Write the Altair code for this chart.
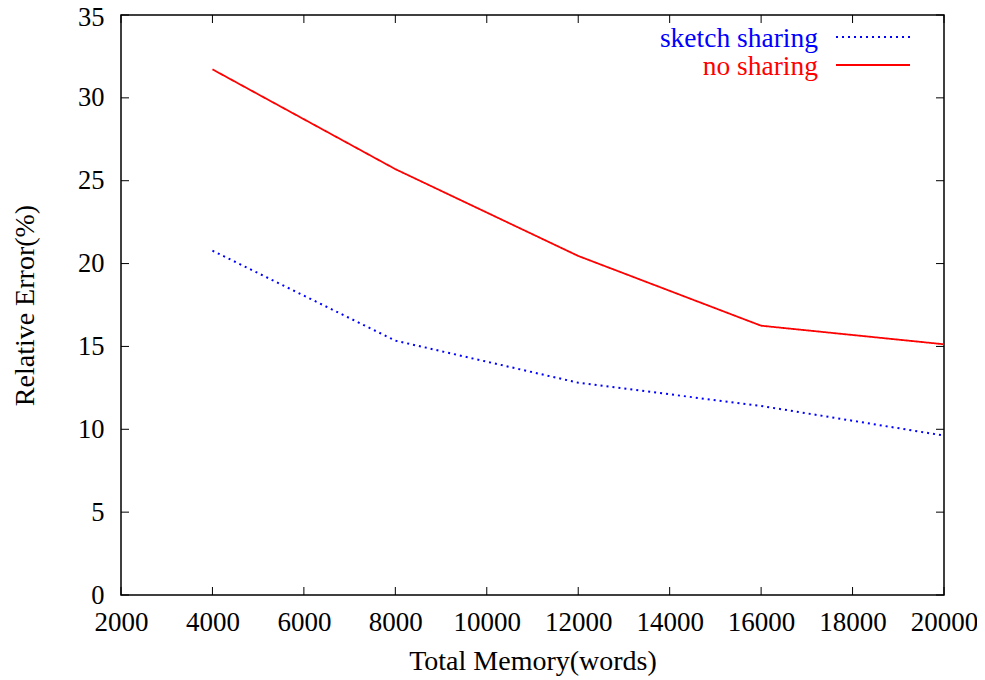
import altair as alt
import pandas as pd

memory = [4000, 8000, 12000, 16000, 20000]
sketch_sharing = [20.78, 15.35, 12.81, 11.41, 9.62]
no_sharing = [31.72, 25.7, 20.46, 16.25, 15.13]
series_names = ["sketch sharing", "no sharing"]
series_colors = ["#0000ff", "#ff0000"]
x_ticks = [2000, 4000, 6000, 8000, 10000, 12000, 14000, 16000, 18000, 20000]
y_ticks = [0, 5, 10, 15, 20, 25, 30, 35]

W, H = 823, 580
FONT = "Liberation Serif"

rows = []
for m, v in zip(memory, sketch_sharing):
    rows.append({"mem": m, "err": v, "series": series_names[0]})
for m, v in zip(memory, no_sharing):
    rows.append({"mem": m, "err": v, "series": series_names[1]})
df = pd.DataFrame(rows)

xscale = alt.Scale(domain=[2000, 20000], nice=False, zero=False)
yscale = alt.Scale(domain=[0, 35], nice=False)
x_axis = alt.Axis(title="Total Memory(words)", values=x_ticks, format="d",
                  labelPadding=14, titlePadding=12, labelFlush=False,
                  labelOverlap=False, labelFontSize=27)
y_axis = alt.Axis(title="Relative Error(%)", values=y_ticks,
                  labelPadding=17, titlePadding=38, labelFontSize=26.5,
                  labelOffset={"condition": {"test": "datum.value == 35", "value": 2.5}, "value": 0})

lines = alt.Chart(df).mark_line(strokeCap="butt").encode(
    x=alt.X("mem:Q", scale=xscale, axis=x_axis),
    y=alt.Y("err:Q", scale=yscale, axis=y_axis),
    color=alt.Color("series:N", scale=alt.Scale(domain=series_names, range=series_colors), legend=None),
    strokeDash=alt.StrokeDash("series:N", scale=alt.Scale(domain=series_names, range=[[2, 4], [1, 0]]), legend=None),
    strokeWidth=alt.StrokeWidth("series:N", scale=alt.Scale(domain=series_names, range=[2, 1.8]), legend=None),
)

xt = pd.DataFrame({"t": x_ticks})
yt = pd.DataFrame({"t": y_ticks})

tick_style = dict(color="black", strokeWidth=1)
xt_bottom = alt.Chart(xt).mark_rule(**tick_style).encode(
    x=alt.X("t:Q", scale=xscale, axis=x_axis), y=alt.value(H), y2=alt.value(H - 8))
xt_top = alt.Chart(xt).mark_rule(**tick_style).encode(
    x=alt.X("t:Q", scale=xscale, axis=x_axis), y=alt.value(0), y2=alt.value(8))
yt_left = alt.Chart(yt).mark_rule(**tick_style).encode(
    y=alt.Y("t:Q", scale=yscale, axis=y_axis), x=alt.value(0), x2=alt.value(8))
yt_right = alt.Chart(yt).mark_rule(**tick_style).encode(
    y=alt.Y("t:Q", scale=yscale, axis=y_axis), x=alt.value(W), x2=alt.value(W - 8))

leg_df = pd.DataFrame({"series": series_names})
legend_layers = []
for i, name in enumerate(series_names):
    sub = leg_df[leg_df["series"] == name]
    legend_layers.append(
        alt.Chart(sub).mark_text(align="right", baseline="alphabetic", font=FONT,
                                 fontSize=27.5, color=series_colors[i]).encode(
            text="series:N", x=alt.value(697), y=alt.value(32 + 28 * i)))
    legend_layers.append(
        alt.Chart(sub).mark_rule(color=series_colors[i],
                                 strokeDash=[2, 4] if i == 0 else [1, 0],
                                 strokeWidth=2 if i == 0 else 1.8,
                                 strokeCap="butt").encode(
            x=alt.value(715), x2=alt.value(789), y=alt.value(22 + 28 * i)))

chart = alt.layer(lines, xt_bottom, xt_top, yt_left, yt_right, *legend_layers).properties(
    width=W, height=H,
    background="white",
    autosize=alt.AutoSizeParams(type="none"),
    padding={"left": 113, "top": 7, "right": 33, "bottom": 85},
).configure_view(
    stroke="black", strokeWidth=1.5
).configure_axis(
    domain=False, ticks=False, grid=False,
    labelFont=FONT, labelFontSize=27, labelColor="black",
    titleFont=FONT, titleFontSize=28, titleFontWeight="normal", titleColor="black",
)

chart.save("out.html", embed_options={"renderer": "svg", "actions": False})
